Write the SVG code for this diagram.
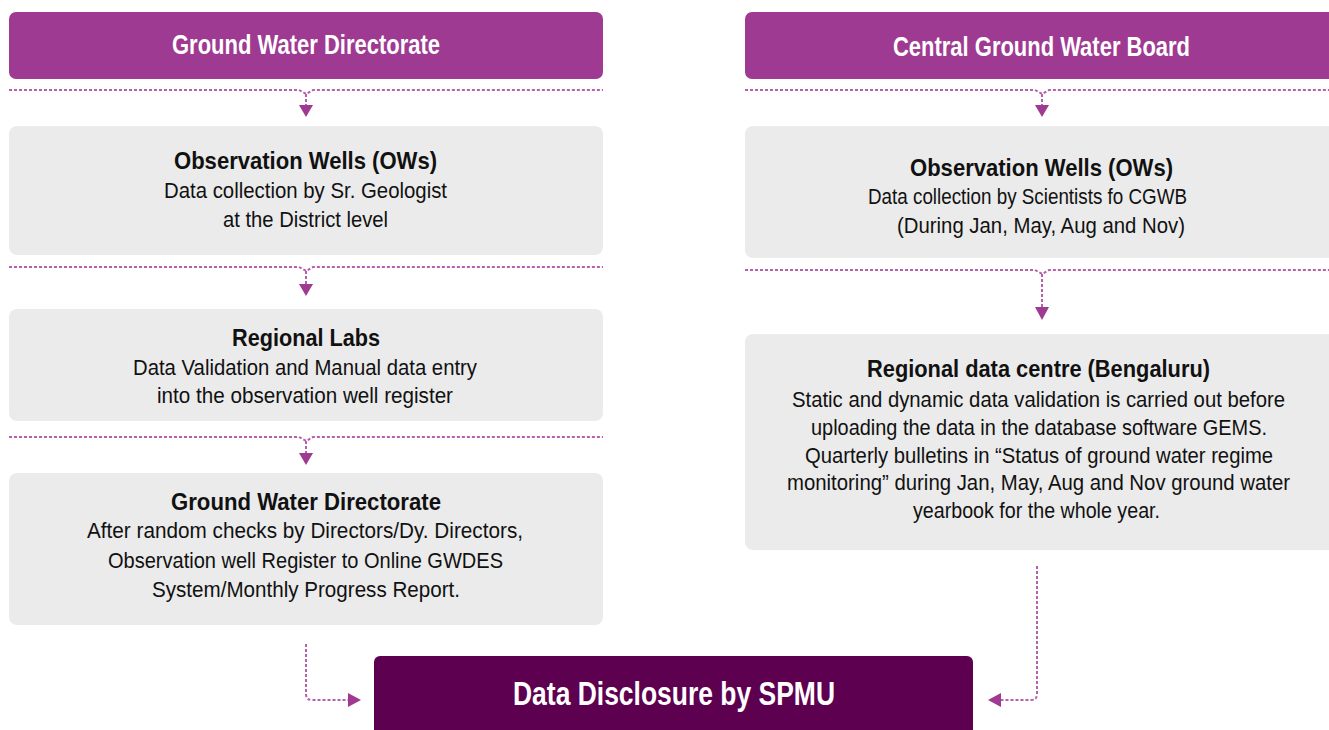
<svg xmlns="http://www.w3.org/2000/svg" width="1329" height="730" viewBox="0 0 1329 730">
<style>
.hdr{fill:#9e3a91}
.box{fill:#ebebeb}
.fin{fill:#5e0050}
.t{font-family:"Liberation Sans",Arial,sans-serif}
.h{font-size:27px;font-weight:bold;fill:#fff}
.ti{font-size:24.5px;font-weight:bold;fill:#111}
.b{font-size:22px;fill:#111}
.big{font-size:33px;font-weight:bold;fill:#fff}
.dot{fill:none;stroke:#b660ac;stroke-width:2;stroke-dasharray:3 2}
.tri{fill:#9e3a91}
</style>
<rect width="1329" height="730" fill="#fff"/>

<g id="connectors">
  <path class="dot" d="M9 90 H299 L306 94 L313 90 H603"/>
  <path class="dot" d="M306 94 V105"/>
  <polygon class="tri" points="299,105 313,105 306,117"/>
  <path class="dot" d="M9 267 H299 L306 271 L313 267 H603"/>
  <path class="dot" d="M306 271 V284"/>
  <polygon class="tri" points="299,284 313,284 306,296"/>
  <path class="dot" d="M9 437 H299 L306 441 L313 437 H603"/>
  <path class="dot" d="M306 441 V453"/>
  <polygon class="tri" points="299,453 313,453 306,465"/>
  <path class="dot" d="M745 90 H1035 L1042 94 L1049 90 H1329"/>
  <path class="dot" d="M1042 94 V105"/>
  <polygon class="tri" points="1035,105 1049,105 1042,117"/>
  <path class="dot" d="M745 270 H1035 L1042 274 L1049 270 H1329"/>
  <path class="dot" d="M1042 274 V307"/>
  <polygon class="tri" points="1035,307 1049,307 1042,320"/>
  <path class="dot" d="M306 644 V694 Q306 700 312 700 H348"/>
  <polygon class="tri" points="348,693 361,700 348,707"/>
  <path class="dot" d="M1037 566 V694 Q1037 700 1031 700 H1001"/>
  <polygon class="tri" points="1001,693 988,700 1001,707"/>
</g>

<g id="gwd-header">
  <rect class="hdr" x="9" y="12" width="594" height="67" rx="7"/>
  <text class="t h" x="172" y="54" textLength="268" lengthAdjust="spacingAndGlyphs">Ground Water Directorate</text>
</g>
<g id="cgwb-header">
  <rect class="hdr" x="745" y="12" width="600" height="67" rx="7"/>
  <text class="t h" x="893" y="56" textLength="297" lengthAdjust="spacingAndGlyphs">Central Ground Water Board</text>
</g>

<g id="left-ows">
  <rect class="box" x="9" y="126" width="594" height="129" rx="8"/>
  <text class="t ti" x="174" y="169" textLength="263" lengthAdjust="spacingAndGlyphs">Observation Wells (OWs)</text>
  <text class="t b" x="164" y="198" textLength="283" lengthAdjust="spacingAndGlyphs">Data collection by Sr. Geologist</text>
  <text class="t b" x="223" y="227" textLength="165" lengthAdjust="spacingAndGlyphs">at the District level</text>
</g>
<g id="regional-labs">
  <rect class="box" x="9" y="309" width="594" height="112" rx="8"/>
  <text class="t ti" x="232" y="346" textLength="148" lengthAdjust="spacingAndGlyphs">Regional Labs</text>
  <text class="t b" x="133" y="375" textLength="344" lengthAdjust="spacingAndGlyphs">Data Validation and Manual data entry</text>
  <text class="t b" x="157" y="403" textLength="296" lengthAdjust="spacingAndGlyphs">into the observation well register</text>
</g>
<g id="gwd-box">
  <rect class="box" x="9" y="473" width="594" height="152" rx="8"/>
  <text class="t ti" x="171" y="510" textLength="270" lengthAdjust="spacingAndGlyphs">Ground Water Directorate</text>
  <text class="t b" x="87" y="538" textLength="436" lengthAdjust="spacingAndGlyphs">After random checks by Directors/Dy. Directors,</text>
  <text class="t b" x="108" y="568" textLength="395" lengthAdjust="spacingAndGlyphs">Observation well Register to Online GWDES</text>
  <text class="t b" x="152" y="597" textLength="308" lengthAdjust="spacingAndGlyphs">System/Monthly Progress Report.</text>
</g>

<g id="right-ows">
  <rect class="box" x="745" y="126" width="600" height="132" rx="8"/>
  <text class="t ti" x="910" y="176" textLength="263" lengthAdjust="spacingAndGlyphs">Observation Wells (OWs)</text>
  <text class="t b" x="868" y="204" textLength="319" lengthAdjust="spacingAndGlyphs">Data collection by Scientists fo CGWB</text>
  <text class="t b" x="897" y="233" textLength="288" lengthAdjust="spacingAndGlyphs">(During Jan, May, Aug and Nov)</text>
</g>
<g id="regional-data-centre">
  <rect class="box" x="745" y="334" width="600" height="216" rx="8"/>
  <text class="t ti" x="867" y="377" textLength="343" lengthAdjust="spacingAndGlyphs">Regional data centre (Bengaluru)</text>
  <text class="t b" x="792" y="407" textLength="493" lengthAdjust="spacingAndGlyphs">Static and dynamic data validation is carried out before</text>
  <text class="t b" x="811" y="435" textLength="456" lengthAdjust="spacingAndGlyphs">uploading the data in the database software GEMS.</text>
  <text class="t b" x="805" y="463" textLength="468" lengthAdjust="spacingAndGlyphs">Quarterly bulletins in “Status of ground water regime</text>
  <text class="t b" x="787" y="490" textLength="503" lengthAdjust="spacingAndGlyphs">monitoring” during Jan, May, Aug and Nov ground water</text>
  <text class="t b" x="913" y="518" textLength="247" lengthAdjust="spacingAndGlyphs">yearbook for the whole year.</text>
</g>

<g id="data-disclosure">
  <rect class="fin" x="374" y="656" width="599" height="90" rx="6"/>
  <text class="t big" x="513" y="705" textLength="322" lengthAdjust="spacingAndGlyphs">Data Disclosure by SPMU</text>
</g>
</svg>
